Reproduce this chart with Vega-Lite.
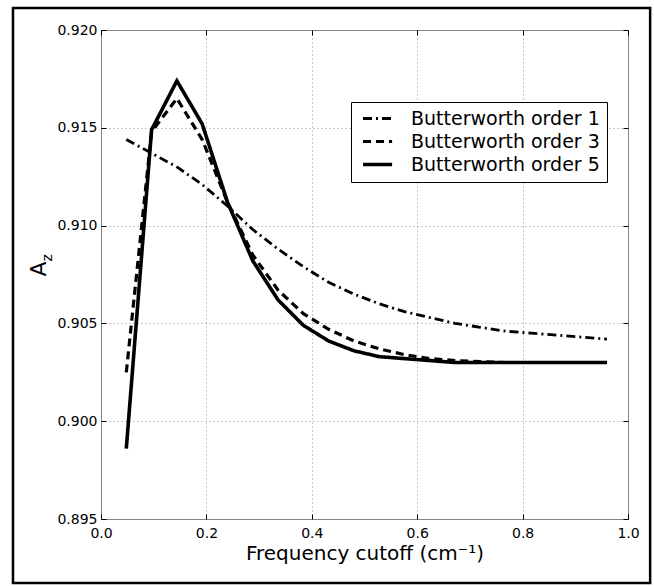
{
  "$schema": "https://vega.github.io/schema/vega-lite/v6.json",
  "width": 527,
  "height": 489,
  "autosize": {"type": "none"},
  "padding": {"left": 101, "top": 30, "right": 26, "bottom": 67},
  "background": "white",
  "config": {
    "font": "DejaVu Sans",
    "view": {"stroke": "#808080", "strokeWidth": 1}
  },
  "datasets": {
    "curves": [
      {"x": 0.048, "Az": 0.9144, "series": "Butterworth order 1"},
      {"x": 0.096, "Az": 0.9137, "series": "Butterworth order 1"},
      {"x": 0.144, "Az": 0.9130, "series": "Butterworth order 1"},
      {"x": 0.192, "Az": 0.9121, "series": "Butterworth order 1"},
      {"x": 0.240, "Az": 0.9110, "series": "Butterworth order 1"},
      {"x": 0.288, "Az": 0.9098, "series": "Butterworth order 1"},
      {"x": 0.336, "Az": 0.9088, "series": "Butterworth order 1"},
      {"x": 0.384, "Az": 0.9079, "series": "Butterworth order 1"},
      {"x": 0.432, "Az": 0.9071, "series": "Butterworth order 1"},
      {"x": 0.480, "Az": 0.9065, "series": "Butterworth order 1"},
      {"x": 0.528, "Az": 0.9060, "series": "Butterworth order 1"},
      {"x": 0.576, "Az": 0.9056, "series": "Butterworth order 1"},
      {"x": 0.624, "Az": 0.9053, "series": "Butterworth order 1"},
      {"x": 0.672, "Az": 0.9050, "series": "Butterworth order 1"},
      {"x": 0.720, "Az": 0.9048, "series": "Butterworth order 1"},
      {"x": 0.768, "Az": 0.9046, "series": "Butterworth order 1"},
      {"x": 0.816, "Az": 0.9045, "series": "Butterworth order 1"},
      {"x": 0.864, "Az": 0.9044, "series": "Butterworth order 1"},
      {"x": 0.912, "Az": 0.9043, "series": "Butterworth order 1"},
      {"x": 0.960, "Az": 0.9042, "series": "Butterworth order 1"},
      {"x": 0.048, "Az": 0.9025, "series": "Butterworth order 3"},
      {"x": 0.096, "Az": 0.9148, "series": "Butterworth order 3"},
      {"x": 0.144, "Az": 0.9165, "series": "Butterworth order 3"},
      {"x": 0.192, "Az": 0.9144, "series": "Butterworth order 3"},
      {"x": 0.240, "Az": 0.9112, "series": "Butterworth order 3"},
      {"x": 0.288, "Az": 0.9085, "series": "Butterworth order 3"},
      {"x": 0.336, "Az": 0.9067, "series": "Butterworth order 3"},
      {"x": 0.384, "Az": 0.9055, "series": "Butterworth order 3"},
      {"x": 0.432, "Az": 0.9047, "series": "Butterworth order 3"},
      {"x": 0.480, "Az": 0.9041, "series": "Butterworth order 3"},
      {"x": 0.528, "Az": 0.9037, "series": "Butterworth order 3"},
      {"x": 0.576, "Az": 0.9034, "series": "Butterworth order 3"},
      {"x": 0.624, "Az": 0.9032, "series": "Butterworth order 3"},
      {"x": 0.672, "Az": 0.9031, "series": "Butterworth order 3"},
      {"x": 0.720, "Az": 0.90305, "series": "Butterworth order 3"},
      {"x": 0.768, "Az": 0.9030, "series": "Butterworth order 3"},
      {"x": 0.816, "Az": 0.9030, "series": "Butterworth order 3"},
      {"x": 0.864, "Az": 0.9030, "series": "Butterworth order 3"},
      {"x": 0.912, "Az": 0.9030, "series": "Butterworth order 3"},
      {"x": 0.960, "Az": 0.9030, "series": "Butterworth order 3"},
      {"x": 0.048, "Az": 0.8986, "series": "Butterworth order 5"},
      {"x": 0.096, "Az": 0.9149, "series": "Butterworth order 5"},
      {"x": 0.144, "Az": 0.9174, "series": "Butterworth order 5"},
      {"x": 0.192, "Az": 0.9152, "series": "Butterworth order 5"},
      {"x": 0.240, "Az": 0.9112, "series": "Butterworth order 5"},
      {"x": 0.288, "Az": 0.9082, "series": "Butterworth order 5"},
      {"x": 0.336, "Az": 0.9062, "series": "Butterworth order 5"},
      {"x": 0.384, "Az": 0.9049, "series": "Butterworth order 5"},
      {"x": 0.432, "Az": 0.9041, "series": "Butterworth order 5"},
      {"x": 0.480, "Az": 0.9036, "series": "Butterworth order 5"},
      {"x": 0.528, "Az": 0.9033, "series": "Butterworth order 5"},
      {"x": 0.576, "Az": 0.9032, "series": "Butterworth order 5"},
      {"x": 0.624, "Az": 0.9031, "series": "Butterworth order 5"},
      {"x": 0.672, "Az": 0.9030, "series": "Butterworth order 5"},
      {"x": 0.720, "Az": 0.9030, "series": "Butterworth order 5"},
      {"x": 0.768, "Az": 0.9030, "series": "Butterworth order 5"},
      {"x": 0.816, "Az": 0.9030, "series": "Butterworth order 5"},
      {"x": 0.864, "Az": 0.9030, "series": "Butterworth order 5"},
      {"x": 0.912, "Az": 0.9030, "series": "Butterworth order 5"},
      {"x": 0.960, "Az": 0.9030, "series": "Butterworth order 5"}
    ]
  },
  "layer": [
    {
      "data": {"values": [{"frame": 1}]},
      "mark": {"type": "rect", "fill": null, "stroke": "black", "strokeWidth": 2.5},
      "encoding": {
        "x": {"datum": -0.167, "type": "quantitative", "scale": {"domain": [0, 1], "nice": false, "zero": false},
              "axis": {"orient": "top", "values": [0, 0.2, 0.4, 0.6, 0.8, 1], "labels": false, "grid": false, "domain": false, "tickSize": -5, "tickColor": "black", "title": null}},
        "x2": {"datum": 1.042},
        "y": {"datum": 0.89173, "type": "quantitative", "scale": {"domain": [0.895, 0.92], "nice": false, "zero": false},
              "axis": {"orient": "right", "values": [0.895, 0.9, 0.905, 0.91, 0.915, 0.92], "labels": false, "grid": false, "domain": false, "tickSize": -5, "tickColor": "black", "title": null}},
        "y2": {"datum": 0.92112}
      }
    },
    {
      "data": {"name": "curves"},
      "mark": {"type": "line", "color": "black", "strokeCap": "butt", "strokeJoin": "miter"},
      "encoding": {
        "x": {"field": "x", "type": "quantitative", "scale": {"domain": [0, 1], "nice": false, "zero": false},
              "axis": {"orient": "bottom", "values": [0, 0.2, 0.4, 0.6, 0.8, 1], "format": ".1f", "labelFlush": false,
                       "grid": true, "gridDash": [1, 3], "gridColor": "#909090", "gridWidth": 1, "domain": false,
                       "tickSize": -5, "tickColor": "black", "labelPadding": 12, "labelFontSize": 14, "labelColor": "black",
                       "title": "Frequency cutoff (cm⁻¹)", "titleFontSize": 20, "titleFontWeight": "normal", "titleColor": "black", "titlePadding": 3}},
        "y": {"field": "Az", "type": "quantitative", "scale": {"domain": [0.895, 0.92], "nice": false, "zero": false},
              "axis": {"orient": "left", "values": [0.895, 0.9, 0.905, 0.91, 0.915, 0.92], "format": ".3f", "labelFlush": false,
                       "grid": true, "gridDash": [1, 3], "gridColor": "#909090", "gridWidth": 1, "domain": false,
                       "tickSize": -5, "tickColor": "black", "labelPadding": 9, "labelFontSize": 14, "labelColor": "black", "title": null}},
        "strokeDash": {"field": "series", "type": "nominal",
                       "scale": {"domain": ["Butterworth order 1", "Butterworth order 3", "Butterworth order 5"], "range": [[9, 4, 2, 4], [8, 5], [1, 0]]},
                       "legend": {"title": null, "orient": "none", "legendX": 250, "legendY": 72, "symbolType": "M-0.75,0H4.1", "symbolSize": 144,
                                  "symbolStrokeColor": "black", "symbolFillColor": "transparent", "labelFontSize": 19, "labelColor": "black", "labelFont": "DejaVu Sans",
                                  "strokeColor": "black", "fillColor": "white", "padding": 7, "rowPadding": 3, "labelOffset": 34, "labelLimit": 400}},
        "strokeWidth": {"field": "series", "type": "nominal",
                        "scale": {"domain": ["Butterworth order 1", "Butterworth order 3", "Butterworth order 5"], "range": [2.8, 3.6, 3.3]},
                        "legend": {"title": null, "orient": "none", "legendX": 250, "legendY": 72, "symbolType": "M-0.75,0H4.1", "symbolSize": 144,
                                  "symbolStrokeColor": "black", "symbolFillColor": "transparent", "labelFontSize": 19, "labelColor": "black", "labelFont": "DejaVu Sans",
                                  "strokeColor": "black", "fillColor": "white", "padding": 7, "rowPadding": 3, "labelOffset": 34, "labelLimit": 400}}
      }
    },
    {
      "data": {"values": [{"label": "A"}]},
      "mark": {"type": "text", "angle": 270, "align": "center", "baseline": "alphabetic", "fontSize": 22, "color": "black"},
      "encoding": {
        "text": {"field": "label"},
        "x": {"datum": -0.105, "type": "quantitative", "scale": {"domain": [0, 1], "nice": false, "zero": false}, "axis": null},
        "y": {"datum": 0.90778, "type": "quantitative", "scale": {"domain": [0.895, 0.92], "nice": false, "zero": false}, "axis": null}
      }
    },
    {
      "data": {"values": [{"label": "z"}]},
      "mark": {"type": "text", "angle": 270, "align": "center", "baseline": "alphabetic", "fontSize": 14, "color": "black"},
      "encoding": {
        "text": {"field": "label"},
        "x": {"datum": -0.0925, "type": "quantitative", "scale": {"domain": [0, 1], "nice": false, "zero": false}, "axis": null},
        "y": {"datum": 0.90835, "type": "quantitative", "scale": {"domain": [0.895, 0.92], "nice": false, "zero": false}, "axis": null}
      }
    }
  ],
  "resolve": {"axis": {"x": "independent", "y": "independent"}}
}
